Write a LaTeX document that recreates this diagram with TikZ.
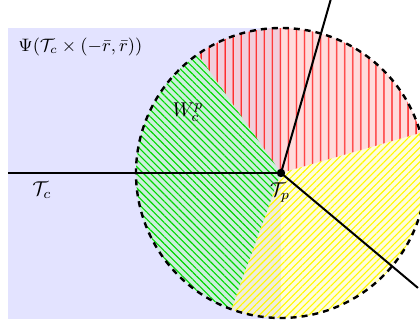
\documentclass[tikz,border=0pt]{standalone}
\usetikzlibrary{patterns.meta}
\begin{document}
\begin{tikzpicture}[x=1pt,y=1pt,
  bound/.style={line width=1pt,black},
  rim/.style={line width=1.2pt,black,dash pattern=on 3pt off 2.5pt},
  redsec/.style={preaction={fill=red!27,fill opacity=0.5},pattern={Lines[angle=90,distance=4pt,line width=0.75pt]},pattern color=red!85},
  greensec/.style={preaction={fill=green!30,fill opacity=0.45},pattern={Lines[angle=-45,distance=2.5pt,line width=0.55pt]},pattern color=green!85!black},
  yellowsec/.style={preaction={fill=yellow!30,fill opacity=0.45},pattern={Lines[angle=45,distance=2.5pt,line width=0.55pt]},pattern color=yellow!95!orange},
  lbl/.style={inner sep=1pt}
  ]
\useasboundingbox (0,0) rectangle (210,163.5);
\clip (0,0) rectangle (210,163.5);
\def\R{72.5}
\coordinate (O) at (140.5,77);
\fill[blue!11] (4,4) rectangle (140.5,149.5);
% sectors
\path[redsec] (O) -- ++(16:\R) arc[start angle=16,end angle=125,radius=\R] -- cycle;
\path[greensec] (O) -- ++(125:\R) arc[start angle=125,end angle=250,radius=\R] -- cycle;
\path[yellowsec] (O) -- ++(250:\R) arc[start angle=250,end angle=376,radius=\R] -- cycle;
% rim
\draw[rim] (O) circle[radius=\R];
% lines
\coordinate (L) at (4,77);
\path (O) ++(74:95) coordinate (U);
\path (O) ++(-40:89.4) coordinate (D);
\draw[bound] (L) -- (O);
\draw[bound] (O) -- (U);
\draw[bound] (O) -- (D);
\node[circle,fill=black,inner sep=0pt,minimum size=4.2pt] (dot) at (O) {};
% labels
\node[lbl,anchor=west,font=\fontsize{9}{11}\selectfont] (psi) at (8,140) {$\Psi(\mathcal{T}_c\times(-\bar{r},\bar{r}))$};
\node[lbl] (w) at (94,107.5) {$W_c^p$};
\node[lbl] (tc) at (21,68.5) {$\mathcal{T}_c$};
\node[lbl,anchor=north] (tp) at (140,73.5) {$\mathcal{T}_p$};
\end{tikzpicture}
\end{document}
